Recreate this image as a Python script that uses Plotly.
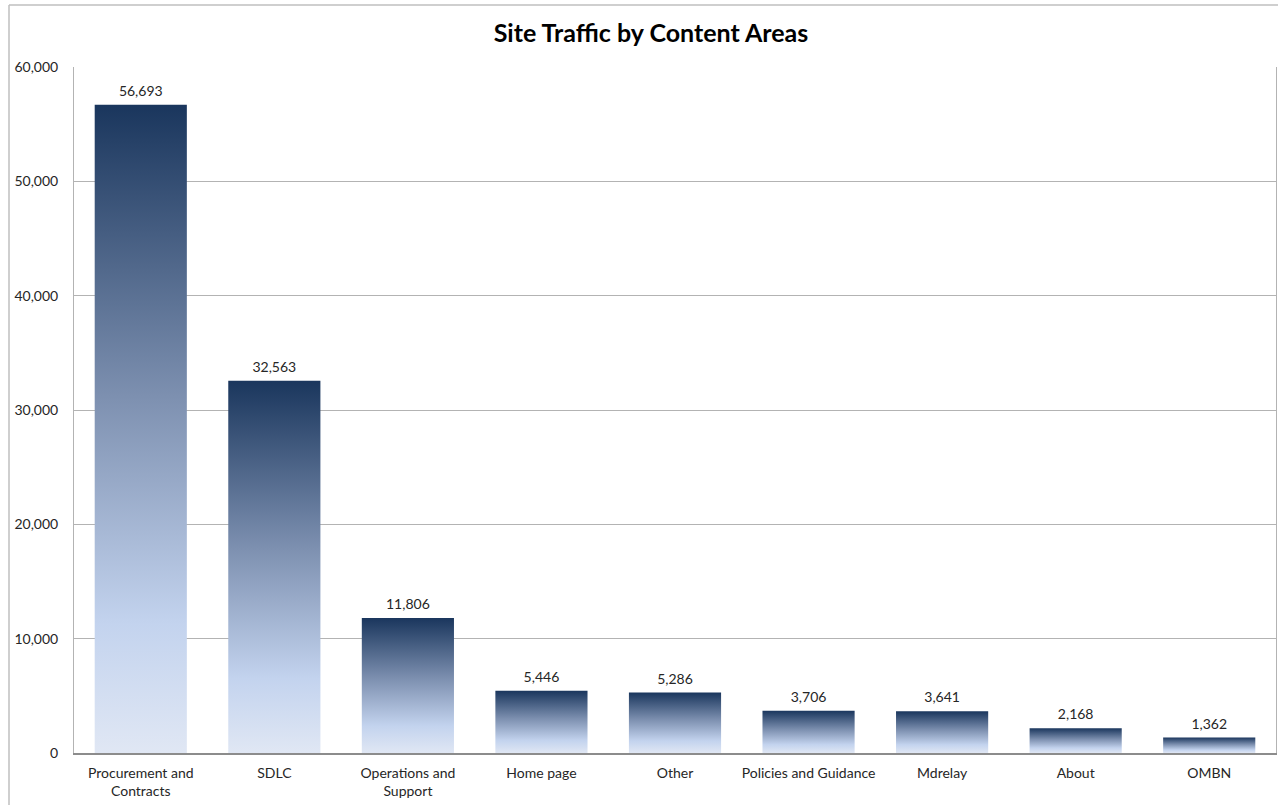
import plotly.graph_objects as go

categories = ["Procurement and<br>Contracts", "SDLC", "Operations and<br>Support", "Home page",
              "Other", "Policies and Guidance", "Mdrelay", "About", "OMBN"]
visits = [56693, 32563, 11806, 5446, 5286, 3706, 3641, 2168, 1362]

bar_width = 0.69
font_family = "Lato, Carlito, Calibri, sans-serif"
gradient = [[0.0, "#e0e7f4"], [0.2, "#c3d3ee"], [0.55, "#7d90b0"], [1.0, "#1a365d"]]

fig = go.Figure()

# gradient-filled bars, one per category, drawn through the axes from the data values
for i, v in enumerate(visits):
    xs = [i - bar_width / 2, i + bar_width / 2, i + bar_width / 2, i - bar_width / 2, i - bar_width / 2]
    ys = [0, 0, v, v, 0]
    fig.add_trace(go.Scatter(
        x=xs, y=ys, mode="lines", fill="toself", line=dict(width=0),
        fillgradient=dict(type="vertical", colorscale=gradient),
        hoverinfo="skip", showlegend=False,
    ))

# value labels above bars
fig.add_trace(go.Scatter(
    x=list(range(len(categories))), y=visits, mode="markers+text",
    marker=dict(size=7, opacity=0),
    text=[f"{v:,}" for v in visits], textposition="top center", cliponaxis=False,
    textfont=dict(family=font_family, size=14, color="#262626"),
    hoverinfo="skip", showlegend=False,
))

fig.update_layout(
    width=1278, height=805,
    margin=dict(l=74, r=2, t=67, b=52),
    paper_bgcolor="white", plot_bgcolor="white",
    font=dict(family=font_family, size=14, color="#262626"),
    title=dict(text="<b>Site Traffic by Content Areas</b>", x=651 / 1278, xref="container",
               xanchor="center", y=1 - 33 / 805, yref="container", yanchor="middle",
               font=dict(family=font_family, size=25, color="black")),
    xaxis=dict(range=[-0.5, len(categories) - 0.5], tickvals=list(range(len(categories))),
               ticktext=categories, showgrid=False, zeroline=False,
               showline=True, linecolor="#8c8c8c", linewidth=1.5, ticks="",
               ticklabelstandoff=6, tickfont=dict(size=14, color="#262626"), fixedrange=True),
    yaxis=dict(range=[0, 60000], dtick=10000, tickformat=",", showgrid=True,
               gridcolor="#b3b3b3", gridwidth=1, zeroline=False,
               showline=True, linecolor="#b3b3b3", linewidth=1, mirror=True, ticks="",
               ticklabelstandoff=12, tickfont=dict(size=14, color="#262626"), fixedrange=True),
    shapes=[
        dict(type="line", xref="paper", yref="paper", x0=(9 - 74) / 1202, x1=1.2,
             y0=1 + (67 - 5) / 686, y1=1 + (67 - 5) / 686, line=dict(color="#bfbfbf", width=1.5)),
        dict(type="line", xref="paper", yref="paper", x0=(9 - 74) / 1202, x1=(9 - 74) / 1202,
             y0=1 + (67 - 5) / 686, y1=-0.2, line=dict(color="#bfbfbf", width=1.5)),
    ],
)

fig.write_html("out.html", config={"displayModeBar": False},
               post_script="document.body.style.margin='0';document.body.style.overflow='hidden';")
